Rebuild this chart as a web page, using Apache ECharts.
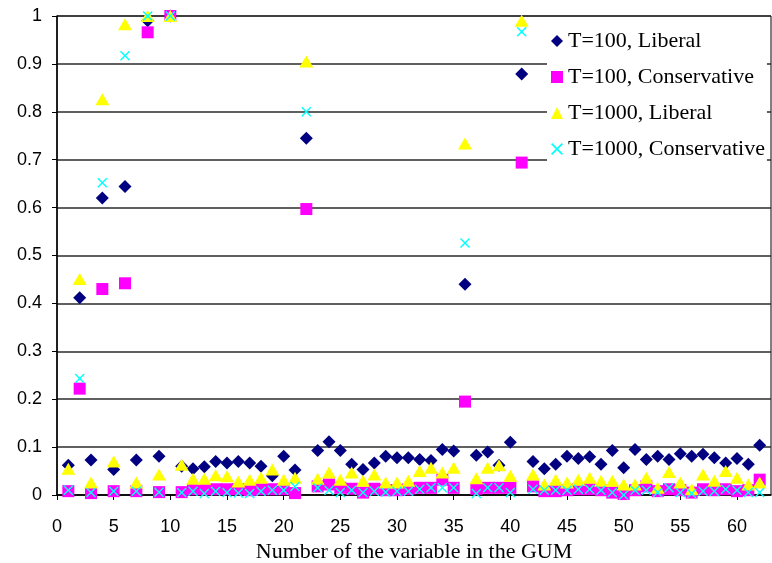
<!DOCTYPE html>
<html>
<head>
<meta charset="utf-8">
<script src="https://cdn.jsdelivr.net/npm/echarts@6/dist/echarts.min.js"></script>
<style>
  html, body { margin: 0; padding: 0; background: #fff; }
  #chart { width: 772px; height: 563px; }
</style>
</head>
<body>
<div id="chart"></div>
<script>
// numéro de la variable dans le GUM
const variables = [
  1, 2, 3, 4, 5, 6, 7, 8, 9, 10, 11, 12, 13, 14, 15, 16, 17, 18, 19, 20, 21,
  22, 23, 24, 25, 26, 27, 28, 29, 30, 31, 32, 33, 34, 35, 36, 37, 38, 39, 40, 41,
  42, 43, 44, 45, 46, 47, 48, 49, 50, 51, 52, 53, 54, 55, 56, 57, 58, 59, 60, 61, 62,
];

const t100Liberal = [
  0.062, 0.412, 0.073, 0.62, 0.053, 0.644, 0.073, 0.99, 0.081, 1.0, 0.06, 0.055, 0.059, 0.07,
  0.067, 0.07, 0.067, 0.06, 0.04, 0.081, 0.052, 0.745, 0.093, 0.111, 0.093, 0.064, 0.053, 0.067,
  0.081, 0.078, 0.078, 0.074, 0.072, 0.095, 0.092, 0.44, 0.083, 0.09, 0.062, 0.11, 0.879, 0.07,
  0.055, 0.064, 0.081, 0.076, 0.08, 0.064, 0.093, 0.057, 0.095, 0.074, 0.081, 0.074, 0.086, 0.081,
  0.085, 0.078, 0.067, 0.076, 0.064, 0.104,
];

const t100Conservative = [
  0.008, 0.222, 0.004, 0.43, 0.008, 0.442, 0.008, 0.966, 0.006, 1.0, 0.006, 0.012, 0.012, 0.012,
  0.012, 0.012, 0.01, 0.012, 0.012, 0.012, 0.004, 0.597, 0.018, 0.022, 0.015, 0.013, 0.005, 0.013,
  0.01, 0.01, 0.012, 0.015, 0.015, 0.032, 0.015, 0.195, 0.013, 0.015, 0.015, 0.015, 0.694, 0.018,
  0.008, 0.008, 0.01, 0.012, 0.012, 0.01, 0.005, 0.002, 0.01, 0.018, 0.008, 0.012, 0.01, 0.005,
  0.012, 0.01, 0.012, 0.008, 0.01, 0.032,
];

const t1000Liberal = [
  0.055, 0.451, 0.026, 0.826, 0.07, 0.983, 0.026, 1.0, 0.043, 1.0, 0.063, 0.034, 0.034, 0.041,
  0.039, 0.028, 0.032, 0.036, 0.053, 0.032, 0.036, 0.905, 0.034, 0.047, 0.032, 0.047, 0.03, 0.043,
  0.026, 0.026, 0.03, 0.05, 0.057, 0.047, 0.057, 0.734, 0.035, 0.057, 0.062, 0.04, 0.99, 0.043,
  0.022, 0.032, 0.026, 0.032, 0.036, 0.03, 0.03, 0.022, 0.022, 0.036, 0.015, 0.048, 0.026, 0.012,
  0.043, 0.03, 0.05, 0.036, 0.022, 0.026,
];

const t1000Conservative = [
  0.01, 0.243, 0.005, 0.652, 0.008, 0.917, 0.008, 1.0, 0.006, 1.0, 0.005, 0.008, 0.003, 0.008,
  0.005, 0.004, 0.003, 0.008, 0.01, 0.01, 0.018, 0.8, 0.015, 0.01, 0.005, 0.01, 0.005, 0.008,
  0.006, 0.008, 0.008, 0.012, 0.015, 0.015, 0.015, 0.526, 0.003, 0.015, 0.015, 0.005, 0.967, 0.012,
  0.01, 0.01, 0.01, 0.012, 0.012, 0.01, 0.005, 0.0, 0.01, 0.01, 0.005, 0.015, 0.005, 0.003,
  0.008, 0.008, 0.012, 0.01, 0.005, 0.005,
];

const seriesNames = [
  'T=100, Liberal',
  'T=100, Conservative',
  'T=1000, Liberal',
  'T=1000, Conservative',
];

const crossPath = 'path://M0,1L1,0L5,4L9,0L10,1L6,5L10,9L9,10L5,6L1,10L0,9L4,5Z';
const serif = 'Liberation Serif';
const sans = 'Liberation Sans';

const toPoints = (values) => variables.map((v, i) => [v, values[i]]);

const makeSeries = (name, values, symbol, size, color) => ({
  name,
  type: 'scatter',
  data: toPoints(values),
  symbol,
  symbolSize: size,
  itemStyle: { color, opacity: 1 },
  emphasis: { disabled: true },
  animation: false,
});

const chart = echarts.init(document.getElementById('chart'), null, { renderer: 'canvas' });
chart.setOption({
  backgroundColor: '#fff',
  animation: false,
  grid: {
    left: 57,
    right: 1,
    top: 16,
    bottom: 68,
    outerBoundsMode: 'none',
    containLabel: false,
    show: true,
    borderColor: '#000',
    borderWidth: 1,
  },
  legend: {
    orient: 'vertical',
    left: 547,
    top: 19,
    width: 225,
    height: 148,
    padding: [11, 2, 10, 4],
    itemGap: 14,
    itemWidth: 12,
    itemHeight: 12,
    backgroundColor: '#fff',
    selectedMode: false,
    textStyle: { fontFamily: serif, fontSize: 22, color: '#000' },
    data: [
      { name: seriesNames[0], icon: 'diamond' },
      { name: seriesNames[1], icon: 'rect' },
      { name: seriesNames[2], icon: 'triangle' },
      { name: seriesNames[3], icon: crossPath },
    ],
  },
  xAxis: {
    type: 'value',
    min: 0,
    max: 63,
    interval: 5,
    name: 'Number of the variable in the GUM',
    nameLocation: 'middle',
    nameGap: 46,
    nameTextStyle: { fontFamily: serif, fontSize: 22, color: '#000' },
    axisLine: { show: true, onZero: false, lineStyle: { color: '#000', width: 1.5 } },
    axisTick: { show: true, length: 5, lineStyle: { color: '#000' } },
    axisLabel: {
      margin: 23,
      fontFamily: sans,
      fontSize: 18,
      color: '#000',
      showMaxLabel: false,
    },
    splitLine: { show: false },
  },
  yAxis: {
    type: 'value',
    min: 0,
    max: 1,
    interval: 0.1,
    axisLine: { show: true, lineStyle: { color: '#000', width: 1.5 } },
    axisTick: { show: true, length: 5, lineStyle: { color: '#000' } },
    axisLabel: {
      margin: 15,
      fontFamily: sans,
      fontSize: 18,
      color: '#000',
      formatter: (v) => (v === 0 ? '0' : v === 1 ? '1' : v.toFixed(1)),
    },
    splitLine: { show: true, lineStyle: { color: '#2b2b2b', width: 1.5 } },
  },
  series: [
    makeSeries(seriesNames[0], t100Liberal, 'diamond', 13, '#000080'),
    makeSeries(seriesNames[1], t100Conservative, 'rect', 12, '#ff00ff'),
    makeSeries(seriesNames[2], t1000Liberal, 'triangle', [14, 12], '#ffff00'),
    makeSeries(seriesNames[3], t1000Conservative, crossPath, 10, '#00ffff'),
  ],
});
</script>
</body>
</html>
